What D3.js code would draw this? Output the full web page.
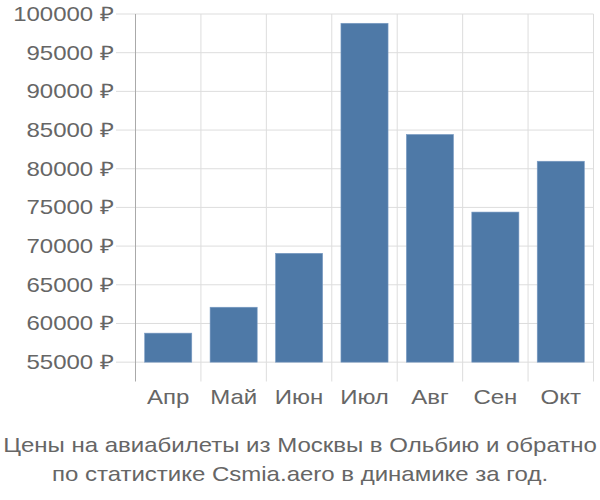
<!DOCTYPE html>
<html><head><meta charset="utf-8">
<script src="https://cdn.jsdelivr.net/npm/d3@7"></script>
<style>body{margin:0;background:#fff}svg{display:block}text{font-family:"Liberation Sans",Arial,sans-serif}</style>
</head><body><svg id="c" width="600" height="500"></svg>
<script>
const categories = ["Апр","Май","Июн","Июл","Авг","Сен","Окт"];
const values = [58750, 62100, 69070, 98800, 84430, 74400, 80970];
const yTicks = [55000,60000,65000,70000,75000,80000,85000,90000,95000,100000];
const baseValue = 55000;
const titleLines = ["Цены на авиабилеты из Москвы в Ольбию и обратно","по статистике Csmia.aero в динамике за год."];

(function(){
const svg = d3.select("#c");
const mL = 135.5, mR = 593.5, mT = 14, mB = 381.5;
const sx = 1.2;
const x = d3.scaleBand().domain(categories).range([mL, mR]).paddingInner(0.28).paddingOuter(0.14);
const xg = d3.scaleBand().domain(categories).range([mL, mR]);
const y = d3.scaleLinear().domain([52500, 100000]).range([mB, mT]);

svg.append("g").selectAll("line").data(yTicks).join("line")
  .attr("x1", 116).attr("x2", mR).attr("y1", d => y(d)).attr("y2", d => y(d))
  .attr("stroke", "#ddd").attr("stroke-width", 1);
svg.append("g").selectAll("line").data(categories).join("line")
  .attr("x1", d => xg(d) + xg.bandwidth()).attr("x2", d => xg(d) + xg.bandwidth())
  .attr("y1", mT).attr("y2", mB)
  .attr("stroke", "#ddd").attr("stroke-width", 1);
svg.append("line").attr("x1", mL).attr("x2", mL).attr("y1", mT).attr("y2", mB)
  .attr("stroke", "#aaa").attr("stroke-width", 1);

svg.append("g").selectAll("rect").data(values).join("rect")
  .attr("x", (d, i) => x(categories[i]))
  .attr("width", x.bandwidth())
  .attr("y", d => y(d))
  .attr("height", d => y(baseValue) - y(d))
  .attr("fill", "#4e79a7")
  .attr("stroke", "#7a9cc4").attr("stroke-width", 0.6);

svg.append("g").selectAll("text").data(yTicks).join("text")
  .attr("transform", d => `translate(114,${y(d)}) scale(${sx},1)`)
  .attr("dy", "0.35em")
  .attr("text-anchor", "end").attr("fill", "#666").attr("font-size", 20)
  .text(d => d + " ₽");
svg.append("g").selectAll("text").data(categories).join("text")
  .attr("transform", d => `translate(${xg(d) + xg.bandwidth() / 2},404) scale(${sx},1)`)
  .attr("text-anchor", "middle").attr("fill", "#666").attr("font-size", 20)
  .text(d => d);
svg.append("g").selectAll("text").data(titleLines).join("text")
  .attr("transform", (d, i) => `translate(300,${452 + i * 29}) scale(${sx},1)`)
  .attr("text-anchor", "middle").attr("fill", "#666").attr("font-size", 20)
  .text(d => d);
})();
</script></body></html>
